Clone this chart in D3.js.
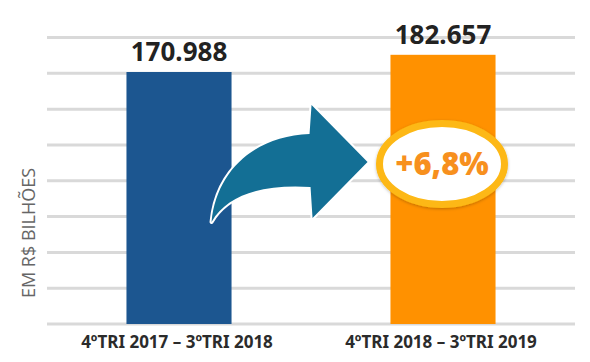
<!DOCTYPE html>
<html>
<head>
<meta charset="utf-8">
<script src="https://cdn.jsdelivr.net/npm/d3@7"></script>
<style>
  html, body { margin: 0; padding: 0; background: #fff; }
  svg { display: block; }
</style>
</head>
<body>
<div id="chart"></div>
<script>
// periods and values (R$ bilhões, pt-BR thousands)
const categories = ['4ºTRI 2017 – 3ºTRI 2018', '4ºTRI 2018 – 3ºTRI 2019'];
const values = [170988, 182657];
const barColors = ['#1c5690', '#ff9100'];
const gridStep = 24300;
const gridMax = 194400;
const axisTitle = 'EM R$ BILHÕES';

const width = 590, height = 362;
const ptBR = d3.formatLocale({ decimal: ',', thousands: '.', grouping: [3], currency: ['R$', ''] });
const fmtValue = ptBR.format(',d');
const fmtPct = ptBR.format('+.1f');

const svg = d3.select('#chart').append('svg')
  .attr('width', width)
  .attr('height', height);

const x = d3.scaleBand()
  .domain(categories)
  .range([47, 575])
  .paddingInner(0.602)
  .paddingOuter(0.301);

const y = d3.scaleLinear()
  .domain([0, gridMax])
  .range([324, 37.5]);

// gridlines
svg.append('g').attr('class', 'grid')
  .selectAll('line')
  .data(d3.range(0, gridMax + 1, gridStep))
  .enter().append('line')
    .attr('x1', 47)
    .attr('x2', 575)
    .attr('y1', d => y(d))
    .attr('y2', d => y(d))
    .style('stroke', '#d9d9d9')
    .style('stroke-width', 3);

// bars
svg.append('g').attr('class', 'bars')
  .selectAll('rect')
  .data(values)
  .enter().append('rect')
    .attr('x', (d, i) => x(categories[i]))
    .attr('y', d => y(d))
    .attr('width', x.bandwidth())
    .attr('height', d => y(0) - y(d))
    .attr('fill', (d, i) => barColors[i]);

// value labels
svg.append('g').attr('class', 'values')
  .selectAll('text')
  .data(values)
  .enter().append('text')
    .attr('x', (d, i) => x(categories[i]) + x.bandwidth() / 2)
    .attr('y', d => y(d) - 11)
    .attr('text-anchor', 'middle')
    .style('font-family', '"Noto Sans", sans-serif')
    .style('font-weight', 700)
    .style('font-size', '26px')
    .style('fill', '#222')
    .text(d => fmtValue(d));

// category labels
svg.append('g').attr('class', 'cats')
  .selectAll('text')
  .data(categories)
  .enter().append('text')
    .attr('x', d => x(d) + x.bandwidth() / 2 - 2)
    .attr('y', 348)
    .attr('text-anchor', 'middle')
    .style('font-family', '"Noto Sans", sans-serif')
    .style('font-weight', 700)
    .style('font-size', '17px')
    .style('fill', '#2b2b2b')
    .text(d => d);

// y axis title
svg.append('text')
  .attr('transform', 'translate(35,233) rotate(-90)')
  .attr('text-anchor', 'middle')
  .style('font-family', '"Open Sans", sans-serif')
  .style('font-size', '18px')
  .style('fill', '#666')
  .text(axisTitle);

// curved arrow, anchored to the right edge of the first bar
const ax = x(categories[0]) + x.bandwidth();
const ay = y(0);
const arrow = svg.append('g')
  .attr('transform', 'translate(' + (ax - 20) + ',' + (ay - 102) + ')');
arrow.append('path')
  .attr('d', 'M0,0 C5,-52 44,-86 98,-88 L100,-117 L156,-60 L101,-4 L99,-35 C53,-38 16,-28 0,0 Z')
  .attr('fill', '#136f95')
  .attr('stroke', '#fff')
  .attr('stroke-width', 4)
  .attr('stroke-linejoin', 'round')
  .style('paint-order', 'stroke');

// growth badge on the second bar
const growth = (values[1] / values[0] - 1) * 100;
const bx = x(categories[1]) + x.bandwidth() / 2 - 1;
const by = 164;
svg.append('defs').append('filter')
  .attr('id', 'shadow')
  .append('feDropShadow')
    .attr('dx', 0).attr('dy', 1).attr('stdDeviation', 1.5)
    .attr('flood-color', '#000').attr('flood-opacity', 0.25);
svg.append('ellipse')
  .attr('cx', bx)
  .attr('cy', by)
  .attr('rx', 62.5)
  .attr('ry', 40.5)
  .attr('fill', '#fff')
  .attr('stroke', '#fdb813')
  .attr('stroke-width', 7)
  .attr('filter', 'url(#shadow)');
svg.append('text')
  .attr('x', bx)
  .attr('y', by + 11)
  .attr('text-anchor', 'middle')
  .style('font-family', '"Open Sans", sans-serif')
  .style('font-weight', 800)
  .style('font-size', '31px')
  .style('fill', '#f7901e')
  .text(fmtPct(growth) + '%');
</script>
</body>
</html>
